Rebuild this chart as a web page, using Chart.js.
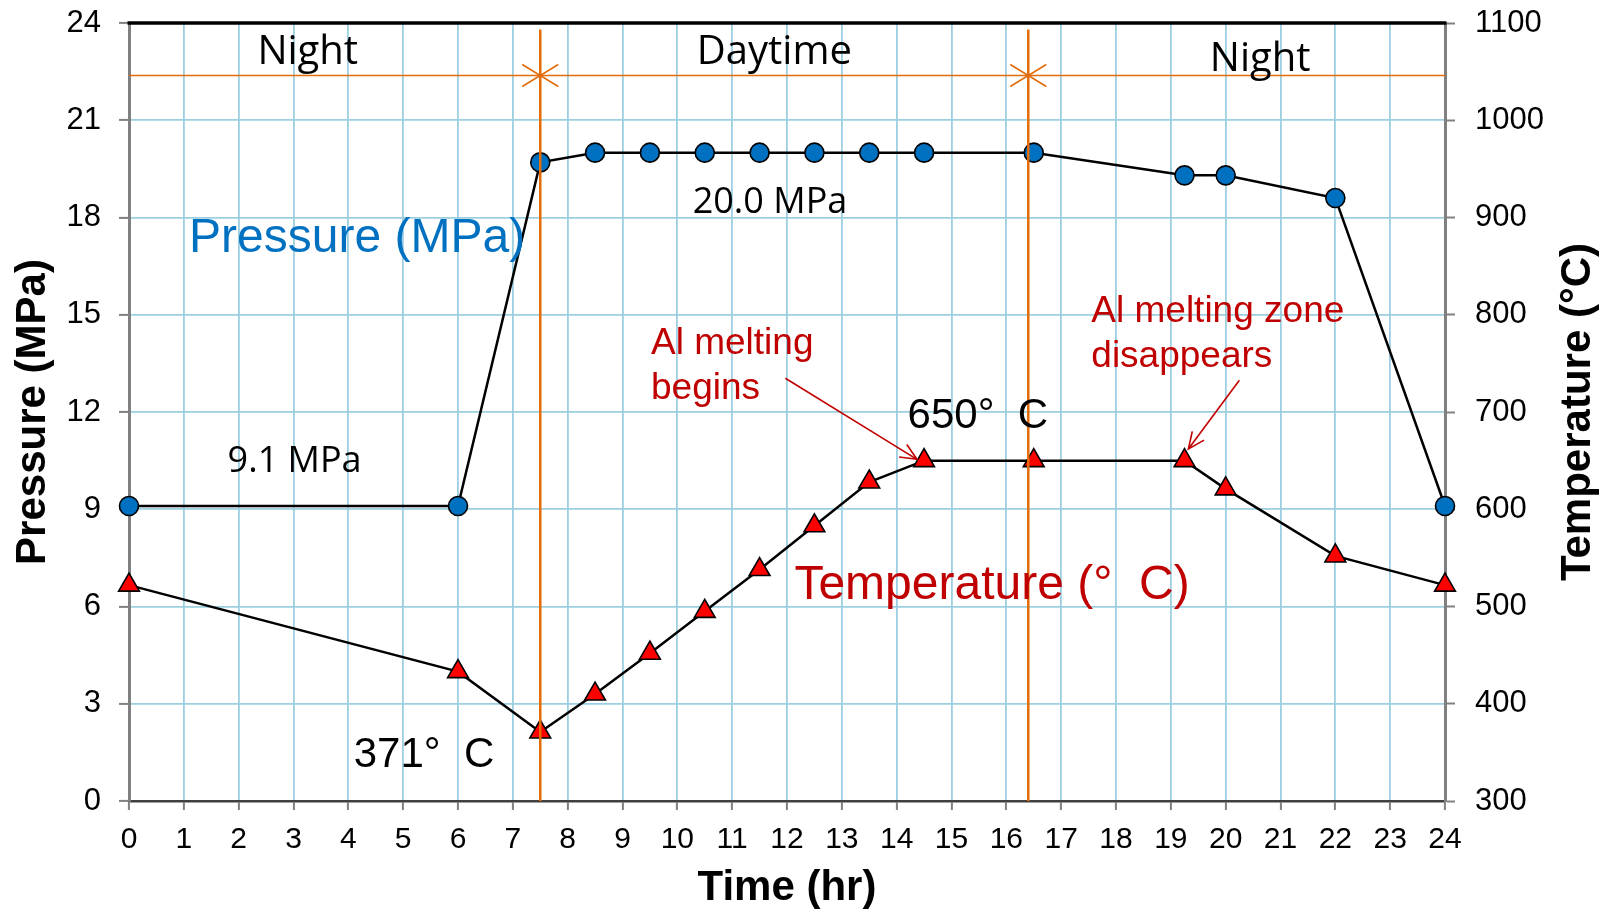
<!DOCTYPE html>
<html>
<head>
<meta charset="utf-8">
<script src="https://cdn.jsdelivr.net/npm/chart.js@4.4.1/dist/chart.umd.min.js"></script>
<style>
  html, body { margin: 0; padding: 0; background: #ffffff; }
  #wrap { width: 1610px; height: 913px; }
</style>
</head>
<body>
<div id="wrap"><canvas id="c" width="1610" height="913"></canvas></div>
<script>
// ---- data ----
const timeHours   = [0, 6, 7.5, 8.5, 9.5, 10.5, 11.5, 12.5, 13.5, 14.5, 16.5, 19.25, 20, 22, 24];
const pressureMPa = [9.1, 9.1, 19.7, 20, 20, 20, 20, 20, 20, 20, 20, 19.3, 19.3, 18.6, 9.1];
const temperatureC = [522, 433, 371, 410, 452, 495, 538, 583, 628, 650, 650, 650, 621, 552, 522];

const xTicks = [0,1,2,3,4,5,6,7,8,9,10,11,12,13,14,15,16,17,18,19,20,21,22,23,24];
const pressureTicks = [0, 3, 6, 9, 12, 15, 18, 21, 24];
const temperatureTicks = [300, 400, 500, 600, 700, 800, 900, 1000, 1100];

const periodBoundaries = [7.5, 16.4];
const periodLabels = ['Night', 'Daytime', 'Night'];

const ARIAL = '"Liberation Sans", Arial, sans-serif';
const CALIBRI = '"Open Sans", "Noto Sans", sans-serif';
const ORANGE = '#E46C0A';
const DARKRED = '#C00000';
const GRID = '#9CCFE0';

function toXY(xs, ys) { return xs.map((v, i) => ({ x: v, y: ys[i] })); }
function setTicks(arr) { return function (scale) { scale.ticks = arr.map(v => ({ value: v })); }; }
const plainLabel = v => String(v);

const overlay = {
  id: 'overlay',
  afterDatasetsDraw(chart) {
    const { ctx, chartArea: ca, scales } = chart;
    const X = v => scales.x.getPixelForValue(v);
    const Y = v => scales.y.getPixelForValue(v);
    ctx.save();

    // top border of plot area
    ctx.strokeStyle = '#000';
    ctx.lineWidth = 3.5;
    ctx.beginPath();
    ctx.moveTo(ca.left - 1.5, ca.top);
    ctx.lineTo(ca.right + 1.5, ca.top);
    ctx.stroke();

    // period dividers
    const bandY = 22.38;
    ctx.strokeStyle = ORANGE;
    ctx.lineWidth = 2.5;
    periodBoundaries.forEach(b => {
      ctx.beginPath();
      ctx.moveTo(X(b), Y(23.8));
      ctx.lineTo(X(b), Y(0));
      ctx.stroke();
    });
    ctx.lineWidth = 1.6;
    ctx.beginPath();
    ctx.moveTo(X(0), Y(bandY));
    ctx.lineTo(X(24), Y(bandY));
    ctx.stroke();
    // open arrow heads at boundaries
    periodBoundaries.forEach(b => {
      const px = X(b), py = Y(bandY);
      [-1, 1].forEach(dir => {
        ctx.beginPath();
        ctx.moveTo(px + dir * 18, py - 11);
        ctx.lineTo(px, py);
        ctx.lineTo(px + dir * 18, py + 11);
        ctx.stroke();
      });
    });

    function text(str, xv, yv, font, color, align) {
      ctx.font = font;
      ctx.fillStyle = color;
      ctx.textAlign = align || 'center';
      ctx.textBaseline = 'middle';
      ctx.fillText(str, X(xv), Y(yv));
    }
    // period labels
    text(periodLabels[0], 3.26, 23.1, '40px ' + CALIBRI, '#000');
    text(periodLabels[1], 11.77, 23.1, '40px ' + CALIBRI, '#000');
    text(periodLabels[2], 20.63, 22.88, '40px ' + CALIBRI, '#000');

    text('20.0 MPa', 11.69, 18.46, '36px ' + CALIBRI, '#000');
    text('9.1 MPa', 3.02, 10.48, '36px ' + CALIBRI, '#000');

    text('Pressure (MPa)', 4.16, 17.35, '48px ' + ARIAL, '#0070C0');
    text('Temperature (°  C)', 15.74, 6.65, '48px ' + ARIAL, DARKRED);

    text('650°  C', 15.48, 11.87, '42px ' + ARIAL, '#000');
    text('371°  C', 5.38, 1.42, '42px ' + ARIAL, '#000');

    text('Al melting', 9.52, 14.09, '37px ' + ARIAL, DARKRED, 'left');
    text('begins', 9.52, 12.73, '37px ' + ARIAL, DARKRED, 'left');
    text('Al melting zone', 17.55, 15.1, '37px ' + ARIAL, DARKRED, 'left');
    text('disappears', 17.55, 13.71, '37px ' + ARIAL, DARKRED, 'left');

    // annotation arrows
    function arrow(x0, y0, x1, y1) {
      const ax = X(x0), ay = Y(y0), bx = X(x1), by = Y(y1);
      const ang = Math.atan2(by - ay, bx - ax);
      ctx.strokeStyle = DARKRED;
      ctx.lineWidth = 1.6;
      ctx.beginPath();
      ctx.moveTo(ax, ay);
      ctx.lineTo(bx, by);
      ctx.stroke();
      const L = 18, sp = 0.42;
      ctx.beginPath();
      ctx.moveTo(bx - L * Math.cos(ang - sp), by - L * Math.sin(ang - sp));
      ctx.lineTo(bx, by);
      ctx.lineTo(bx - L * Math.cos(ang + sp), by - L * Math.sin(ang + sp));
      ctx.stroke();
    }
    arrow(11.97, 13.04, 14.37, 10.54);
    arrow(20.25, 12.98, 19.32, 10.86);

    // right axis title (reads bottom-to-top)
    ctx.save();
    ctx.translate(1578, (ca.top + ca.bottom) / 2);
    ctx.rotate(-Math.PI / 2);
    ctx.font = 'bold 42px ' + ARIAL;
    ctx.fillStyle = '#000';
    ctx.textAlign = 'center';
    ctx.textBaseline = 'middle';
    ctx.fillText('Temperature (°C)', 0, 0);
    ctx.restore();

    ctx.restore();
  }
};

function fixV(width) {
  return function (s) { s.width = width; s.paddingTop = 0; s.paddingBottom = 0; };
}

new Chart(document.getElementById('c'), {
  type: 'line',
  data: {
    datasets: [
      {
        label: 'Pressure (MPa)',
        data: toXY(timeHours, pressureMPa),
        yAxisID: 'y',
        borderColor: '#000',
        borderWidth: 2.5,
        pointStyle: 'circle',
        pointRadius: 9.5,
        pointBackgroundColor: '#0070C0',
        pointBorderColor: '#000',
        pointBorderWidth: 1.6,
        tension: 0,
        clip: false
      },
      {
        label: 'Temperature (°C)',
        data: toXY(timeHours, temperatureC),
        yAxisID: 'y1',
        borderColor: '#000',
        borderWidth: 2.5,
        pointStyle: 'triangle',
        pointRadius: 12,
        pointBackgroundColor: '#FF0000',
        pointBorderColor: '#000',
        pointBorderWidth: 1.6,
        tension: 0,
        clip: false
      }
    ]
  },
  options: {
    responsive: false,
    animation: false,
    devicePixelRatio: 1,
    layout: { padding: { top: 23, left: 0, right: 0, bottom: 0 } },
    plugins: { legend: { display: false }, tooltip: { enabled: false } },
    scales: {
      x: {
        type: 'linear',
        min: 0, max: 24,
        afterBuildTicks: setTicks(xTicks),
        afterFit(s) { s.height = 112; s.paddingLeft = 0; s.paddingRight = 0; },
        grid: { color: GRID, lineWidth: 1.8, tickColor: '#808080', tickWidth: 2, tickLength: 9 },
        border: { color: '#404040', width: 2.5 },
        ticks: { color: '#000', font: { family: ARIAL, size: 30 }, padding: 12, autoSkip: false, maxRotation: 0, callback: plainLabel },
        title: { display: true, text: 'Time (hr)', color: '#000', font: { family: ARIAL, size: 42, weight: 'bold', lineHeight: 1.1 }, padding: { top: 0, bottom: 1 } }
      },
      y: {
        type: 'linear',
        position: 'left',
        min: 0, max: 24,
        afterBuildTicks: setTicks(pressureTicks),
        afterFit: fixV(129),
        grid: { color: GRID, lineWidth: 1.8, tickColor: '#808080', tickWidth: 2, tickLength: 10 },
        border: { color: '#808080', width: 3 },
        ticks: { color: '#000', font: { family: ARIAL, size: 31 }, padding: 18, callback: plainLabel },
        title: { display: true, text: 'Pressure (MPa)', color: '#000', font: { family: ARIAL, size: 42, weight: 'bold', lineHeight: 1.1 }, padding: { top: 10, bottom: 0 } }
      },
      y1: {
        type: 'linear',
        position: 'right',
        min: 300, max: 1100,
        afterBuildTicks: setTicks(temperatureTicks),
        afterFit: fixV(165),
        grid: { drawOnChartArea: false, tickColor: '#808080', tickWidth: 2, tickLength: 10 },
        border: { color: '#808080', width: 3 },
        ticks: { color: '#000', font: { family: ARIAL, size: 31 }, padding: 20, callback: plainLabel },
        title: { display: false }
      }
    }
  },
  plugins: [overlay]
});
</script>
</body>
</html>
